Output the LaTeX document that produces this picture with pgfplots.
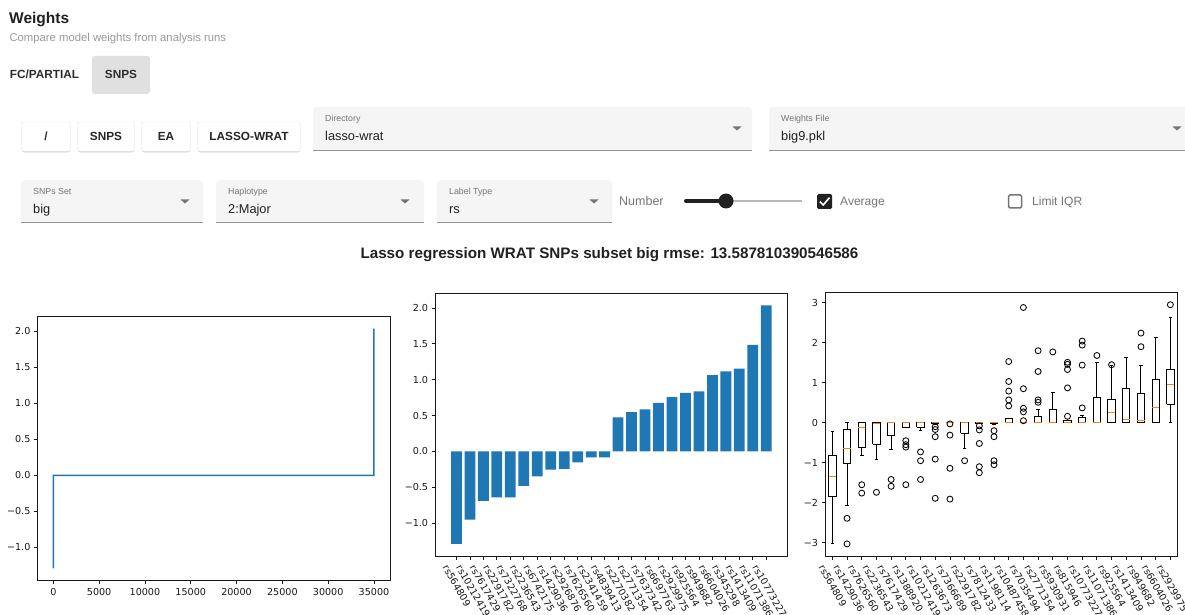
\documentclass[border=0pt]{standalone}
\usepackage{fontspec}
\setmainfont{Liberation Sans}
\newfontfamily\dejavu{DejaVu Sans}
\usepackage{pgfplots}
\pgfplotsset{compat=1.18}
\definecolor{C0}{HTML}{1F77B4}
\definecolor{C1}{HTML}{FF7F0E}
\definecolor{uibg}{HTML}{F5F5F5}
\definecolor{tabbg}{HTML}{E0E0E0}
\definecolor{tdark}{HTML}{212121}
\definecolor{tgray}{HTML}{757575}
\definecolor{tlight}{HTML}{9A9A9A}
\definecolor{uline}{HTML}{949494}
\newcommand\fs[1]{\fontsize{#1}{#1}\selectfont}
\newcommand\tickfont{\dejavu\fontsize{9.6}{10}\selectfont}
\newcommand\btn[3]{%
  \fill[black!22,rounded corners=2.5] (#1,123) rectangle (#2,152.5);
  \fill[black!7,rounded corners=2.5] (#1-0.6,121.6) rectangle (#2+0.6,151.6);
  \fill[white,rounded corners=2.5] (#1,122) rectangle (#2,151);
  \node[anchor=base,inner sep=0,text=black!85] at ({(#1+#2)/2},140.5) {\fs{11.8}\bfseries #3};}
\newcommand\dd[7]{%
  \fill[uibg, rounded corners=4] (#1,#2) rectangle (#3,#4);
  \fill[uibg] (#1,#4-6) rectangle (#3,#4);
  \draw[uline, line width=0.9pt] (#1,#4) -- (#3,#4);
  \node[anchor=base west, inner sep=0, text=tgray] at (#1+12,#2+15) {\fs{8.8}#5};
  \node[anchor=base west, inner sep=0, text=tdark] at (#1+12,#2+34) {\fs{12.8}#6};
  \fill[tgray] (#7-4.5,#2+19.5) -- (#7+4.5,#2+19.5) -- (#7,#2+23.5) -- cycle;}
\pgfplotsset{
  mplaxis/.style={scale only axis, width=352.7pt, anchor=south west, at={(0,0)},
    axis line style={draw=black!90,line width=0.79pt},
    tick style={draw=black!90,line width=0.79pt},
    tick align=outside, tick pos=left, major tick length=3.46pt,
    tick label style={font=\tickfont, text=black!90, inner sep=0pt},
    yticklabel style={outer xsep=3.46pt, outer ysep=0pt},
    scaled ticks=false},
  rotlab/.style={xticklabel style={anchor=north west, rotate=-60, outer xsep=0pt, outer ysep=9.1pt}},
  boxst/.style={black, line width=0.99pt, unbounded coords=jump},
  medst/.style={C1, line width=0.99pt, unbounded coords=jump},
  flst/.style={only marks, mark=o, mark size=3pt, mark options={black, line width=0.85pt, fill=none}}
}
\begin{document}
\setbox0=\hbox{%
\begin{tikzpicture}[x=1pt,y=1pt,baseline=0pt,trim left=0pt,trim right=1185pt]
\fill[white] (0,0) rectangle (1185,614);
\begin{scope}[shift={(0,614)}, y=-1pt]
  \node[anchor=base west, inner sep=0, text=tdark] at (9,23.5) {\fs{15.5}\bfseries Weights};
  \node[anchor=base west, inner sep=0, text=tlight] at (9.3,41.5) {\fs{11.3}Compare model weights from analysis runs};
  \fill[tabbg, rounded corners=3] (92,56) rectangle (150,94);
  \node[anchor=base, inner sep=0, text=black!82] at (44.5,79) {\fs{11.8}\bfseries FC/PARTIAL};
  \node[anchor=base, inner sep=0, text=black!82] at (121,79) {\fs{11.8}\bfseries SNPS};
  \btn{22}{70}{/}
  \btn{78}{134}{SNPS}
  \btn{142}{190}{EA}
  \btn{198}{300}{LASSO-WRAT}
  \dd{313}{107}{752}{150}{Directory}{lasso-wrat}{737}
  \dd{769}{107}{1195}{150}{Weights File}{big9.pkl}{1177}
  \dd{21}{180}{203}{222}{SNPs Set}{big}{185}
  \dd{216}{180}{424}{222}{Haplotype}{2:Major}{405}
  \dd{437}{180}{612}{222}{Label Type}{rs}{594}
  \node[anchor=base west, inner sep=0, text=tgray] at (619,205.5) {\fs{12.5}Number};
  \draw[black!28, line width=2pt] (726,201) -- (802,201);
  \draw[tdark, line width=4pt, line cap=round] (686,201) -- (726,201);
  \fill[tdark] (726,201) circle (7.5pt);
  \fill[tdark, rounded corners=1.5] (817,194) rectangle (832,209);
  \draw[white, line width=1.6pt] (819.8,201.5) -- (823.2,205) -- (829.5,197.6);
  \node[anchor=base west, inner sep=0, text=tgray] at (840,205.5) {\fs{12}Average};
  \draw[tgray, line width=1.5pt, rounded corners=1.5] (1008.5,194.8) rectangle (1021.7,208);
  \node[anchor=base west, inner sep=0, text=tgray] at (1032,205.5) {\fs{12}Limit IQR};
  \node[anchor=base, inner sep=0, text=tdark] at (609.5,258.5) {\fs{15.2}\bfseries Lasso regression WRAT SNPs subset big rmse: 13.587810390546586};
\end{scope}

% ---------- plot 1: sorted weights ----------
\begin{scope}[shift={(37.3,33.3)}]
\begin{axis}[mplaxis, height=264pt,
  xmin=-1750, xmax=36750, ymin=-1.463, ymax=2.204,
  xtick={0,5000,10000,15000,20000,25000,30000,35000},
  xticklabels={0,5000,10000,15000,20000,25000,30000,35000},
  xticklabel style={outer ysep=4.2pt, outer xsep=0pt},
  ytick={-1,-0.5,0,0.5,1,1.5,2},
  yticklabels={−1.0,−0.5,0.0,0.5,1.0,1.5,2.0}]
\addplot[C0, line width=1.48pt] coordinates {
(0,-1.29) (1,-0.95) (2,-0.69) (3,-0.64) (4,-0.64) (5,-0.48) (6,-0.35) (7,-0.255)
(8,-0.245) (9,-0.155) (10,-0.083) (11,-0.083) (12,0) (34987,0)
(34988,0.473) (34989,0.548) (34990,0.585) (34991,0.677) (34992,0.756) (34993,0.817)
(34994,0.835) (34995,1.063) (34996,1.114) (34997,1.155) (34998,1.485) (34999,2.037)};
\end{axis}
\end{scope}

% ---------- plot 2: bar chart ----------
\begin{scope}[shift={(435,57.7)}]
\begin{axis}[mplaxis, rotlab, height=263pt,
  xmin=-1.59, xmax=24.59, ymin=-1.463, ymax=2.204,
  xtick={0,...,23},
  xticklabels={rs564809,rs10212419,rs7617429,rs2291782,rs7322768,rs2236543,rs6742175,rs1429036,rs2926876,rs7626560,rs2341459,rs4839413,rs2270382,rs2771354,rs7637342,rs6697763,rs2929975,rs925564,rs949682,rs6604026,rs345298,rs1413409,rs11071386,rs10773227},
  ytick={-1,-0.5,0,0.5,1,1.5,2},
  yticklabels={−1.0,−0.5,0.0,0.5,1.0,1.5,2.0}]
\addplot[ybar, bar width=0.8, bar shift=0pt, fill=C0, draw=none] coordinates {
(0,-1.29) (1,-0.95) (2,-0.69) (3,-0.64) (4,-0.64) (5,-0.48) (6,-0.35) (7,-0.255)
(8,-0.245) (9,-0.155) (10,-0.083) (11,-0.083)
(12,0.473) (13,0.548) (14,0.585) (15,0.677) (16,0.756) (17,0.817)
(18,0.835) (19,1.063) (20,1.114) (21,1.155) (22,1.485) (23,2.037)};
\end{axis}
\end{scope}

% ---------- plot 3: box plots (box, whiskers, caps; medians; outliers) ----------
\begin{scope}[shift={(825,57.7)}]
\begin{axis}[mplaxis, rotlab, height=263.6pt,
  xmin=0.5, xmax=24.5, ymin=-3.34, ymax=3.25,
  xtick={1,...,24},
  xticklabels={rs564809,rs1429036,rs7626560,rs2236543,rs7617429,rs1388920,rs10212419,rs1263673,rs7366689,rs2291782,rs7812433,rs1198114,rs10487458,rs7035494,rs2771354,rs5930931,rs815946,rs10773227,rs11071386,rs925564,rs1413409,rs949682,rs6604026,rs2929975},
  ytick={-3,-2,-1,0,1,2,3},
  yticklabels={−3,−2,−1,0,1,2,3}]
\addplot[boxst] coordinates {(0.75,-1.85) (1.25,-1.85) (1.25,-0.81) (0.75,-0.81) (0.75,-1.85) (nan,nan) (1,-1.85) (1,-3.03) (nan,nan) (0.875,-3.03) (1.125,-3.03) (nan,nan) (1,-0.81) (1,-0.22) (nan,nan) (0.875,-0.22) (1.125,-0.22)};
\addplot[boxst] coordinates {(1.75,-1.03) (2.25,-1.03) (2.25,-0.17) (1.75,-0.17) (1.75,-1.03) (nan,nan) (2,-1.03) (2,-2.06) (nan,nan) (1.875,-2.06) (2.125,-2.06) (nan,nan) (2,-0.17) (2,0) (nan,nan) (1.875,0) (2.125,0)};
\addplot[boxst] coordinates {(2.75,-0.61) (3.25,-0.61) (3.25,0) (2.75,0) (2.75,-0.61) (nan,nan) (3,-0.61) (3,-0.83) (nan,nan) (2.875,-0.83) (3.125,-0.83) (nan,nan) (2.875,0) (3.125,0)};
\addplot[boxst] coordinates {(3.75,-0.54) (4.25,-0.54) (4.25,0) (3.75,0) (3.75,-0.54) (nan,nan) (4,-0.54) (4,-0.93) (nan,nan) (3.875,-0.93) (4.125,-0.93) (nan,nan) (3.875,0) (4.125,0)};
\addplot[boxst] coordinates {(4.75,-0.31) (5.25,-0.31) (5.25,0) (4.75,0) (4.75,-0.31) (nan,nan) (5,-0.31) (5,-0.68) (nan,nan) (4.875,-0.68) (5.125,-0.68) (nan,nan) (4.875,0) (5.125,0)};
\addplot[boxst] coordinates {(5.75,-0.11) (6.25,-0.11) (6.25,0) (5.75,0) (5.75,-0.11) (nan,nan) (5.875,-0.12) (6.125,-0.12) (nan,nan) (5.875,0) (6.125,0)};
\addplot[boxst] coordinates {(6.75,-0.11) (7.25,-0.11) (7.25,0) (6.75,0) (6.75,-0.11) (nan,nan) (7,-0.11) (7,-0.19) (nan,nan) (6.875,-0.19) (7.125,-0.19) (nan,nan) (6.875,0) (7.125,0)};
\addplot[boxst] coordinates {(7.75,-0.03) (8.25,-0.03) (8.25,0) (7.75,0) (7.75,-0.03) (nan,nan) (7.875,-0.04) (8.125,-0.04) (nan,nan) (7.875,0) (8.125,0)};
\addplot[boxst] coordinates {(8.75,0) (9.25,0) (nan,nan) (8.875,0) (9.125,0)};
\addplot[boxst] coordinates {(9.75,-0.26) (10.25,-0.26) (10.25,0) (9.75,0) (9.75,-0.26) (nan,nan) (10,-0.26) (10,-0.64) (nan,nan) (9.875,-0.64) (10.125,-0.64) (nan,nan) (9.875,0) (10.125,0)};
\addplot[boxst] coordinates {(10.75,-0.02) (11.25,-0.02) (11.25,0) (10.75,0) (10.75,-0.02) (nan,nan) (10.875,-0.03) (11.125,-0.03) (nan,nan) (10.875,0) (11.125,0)};
\addplot[boxst] coordinates {(11.75,-0.03) (12.25,-0.03) (12.25,0) (11.75,0) (11.75,-0.03) (nan,nan) (12,-0.03) (12,-0.05) (nan,nan) (11.875,-0.05) (12.125,-0.05) (nan,nan) (11.875,0) (12.125,0)};
\addplot[boxst] coordinates {(12.75,0) (13.25,0) (13.25,0.11) (12.75,0.11) (12.75,0) (nan,nan) (12.875,0) (13.125,0) (nan,nan) (12.875,0.11) (13.125,0.11)};
\addplot[boxst] coordinates {(13.75,0) (14.25,0) (nan,nan) (13.875,0) (14.125,0)};
\addplot[boxst] coordinates {(14.75,0) (15.25,0) (15.25,0.16) (14.75,0.16) (14.75,0) (nan,nan) (14.875,0) (15.125,0) (nan,nan) (15,0.16) (15,0.32) (nan,nan) (14.875,0.32) (15.125,0.32)};
\addplot[boxst] coordinates {(15.75,0) (16.25,0) (16.25,0.34) (15.75,0.34) (15.75,0) (nan,nan) (15.875,0) (16.125,0) (nan,nan) (16,0.34) (16,0.75) (nan,nan) (15.875,0.75) (16.125,0.75)};
\addplot[boxst] coordinates {(16.75,0) (17.25,0) (17.25,0.05) (16.75,0.05) (16.75,0) (nan,nan) (16.875,0) (17.125,0) (nan,nan) (16.875,0.06) (17.125,0.06)};
\addplot[boxst] coordinates {(17.75,0) (18.25,0) (18.25,0.12) (17.75,0.12) (17.75,0) (nan,nan) (17.875,0) (18.125,0) (nan,nan) (18,0.12) (18,0.19) (nan,nan) (17.875,0.19) (18.125,0.19)};
\addplot[boxst] coordinates {(18.75,0) (19.25,0) (19.25,0.63) (18.75,0.63) (18.75,0) (nan,nan) (18.875,0) (19.125,0) (nan,nan) (19,0.63) (19,1.5) (nan,nan) (18.875,1.5) (19.125,1.5)};
\addplot[boxst] coordinates {(19.75,0) (20.25,0) (20.25,0.57) (19.75,0.57) (19.75,0) (nan,nan) (19.875,0) (20.125,0) (nan,nan) (20,0.57) (20,1.43) (nan,nan) (19.875,1.43) (20.125,1.43)};
\addplot[boxst] coordinates {(20.75,0) (21.25,0) (21.25,0.85) (20.75,0.85) (20.75,0) (nan,nan) (20.875,0) (21.125,0) (nan,nan) (21,0.85) (21,1.63) (nan,nan) (20.875,1.63) (21.125,1.63)};
\addplot[boxst] coordinates {(21.75,0) (22.25,0) (22.25,0.74) (21.75,0.74) (21.75,0) (nan,nan) (21.875,0) (22.125,0) (nan,nan) (22,0.74) (22,1.43) (nan,nan) (21.875,1.43) (22.125,1.43)};
\addplot[boxst] coordinates {(22.75,0) (23.25,0) (23.25,1.08) (22.75,1.08) (22.75,0) (nan,nan) (22.875,0) (23.125,0) (nan,nan) (23,1.08) (23,2.13) (nan,nan) (22.875,2.13) (23.125,2.13)};
\addplot[boxst] coordinates {(23.75,0.46) (24.25,0.46) (24.25,1.33) (23.75,1.33) (23.75,0.46) (nan,nan) (24,0.46) (24,0) (nan,nan) (23.875,0) (24.125,0) (nan,nan) (24,1.33) (24,2.63) (nan,nan) (23.875,2.63) (24.125,2.63)};
% medians
\addplot[medst] coordinates {(0.75,-1.35) (1.25,-1.35) (nan,nan) (1.75,-0.64) (2.25,-0.64) (nan,nan) (2.75,-0.12) (3.25,-0.12) (nan,nan) (3.75,-0.02) (4.25,-0.02) (nan,nan)
(4.75,0) (5.25,0) (nan,nan) (5.75,0) (6.25,0) (nan,nan) (6.75,0) (7.25,0) (nan,nan) (7.75,0) (8.25,0) (nan,nan) (8.75,0) (9.25,0) (nan,nan) (9.75,0) (10.25,0) (nan,nan)
(10.75,0) (11.25,0) (nan,nan) (11.75,0) (12.25,0) (nan,nan) (12.75,0) (13.25,0) (nan,nan) (13.75,0) (14.25,0) (nan,nan) (14.75,0) (15.25,0) (nan,nan) (15.75,0) (16.25,0) (nan,nan)
(16.75,0) (17.25,0) (nan,nan) (17.75,0) (18.25,0) (nan,nan) (18.75,0) (19.25,0) (nan,nan) (19.75,0.25) (20.25,0.25) (nan,nan) (20.75,0.08) (21.25,0.08) (nan,nan)
(21.75,0.05) (22.25,0.05) (nan,nan) (22.75,0.39) (23.25,0.39) (nan,nan) (23.75,0.95) (24.25,0.95)};
% outliers
\addplot[flst] coordinates {
(2,-2.39) (2,-3.03) (3,-1.55) (3,-1.76) (4,-1.74) (5,-1.42) (5,-1.59)
(6,-0.45) (6,-0.55) (6,-0.61) (6,-1.55) (7,-0.73) (7,-0.95) (7,-1.42)
(8,-0.1) (8,-0.17) (8,-0.35) (8,-0.91) (8,-1.89) (9,-0.03) (9,-0.31) (9,-1.14) (9,-1.91)
(10,-0.95) (11,-0.08) (11,-0.18) (11,-0.52) (11,-1.1) (11,-1.25) (12,-0.2) (12,-0.35) (12,-0.95) (12,-1.05)
(13,0.42) (13,0.57) (13,0.79) (13,1.03) (13,1.53) (14,0.05) (14,0.27) (14,0.36) (14,0.85) (14,2.88)
(15,0.51) (15,0.57) (15,1.28) (15,1.8) (16,1.77) (17,0.16) (17,0.87) (17,1.33) (17,1.46) (17,1.51)
(18,0.37) (18,1.44) (18,1.94) (18,2.04) (19,1.68) (20,1.45) (22,1.9) (22,2.24) (24,2.95)};
\end{axis}
\end{scope}
\end{tikzpicture}}%
\ht0=614pt \dp0=0pt \wd0=1185pt
\box0
\end{document}
